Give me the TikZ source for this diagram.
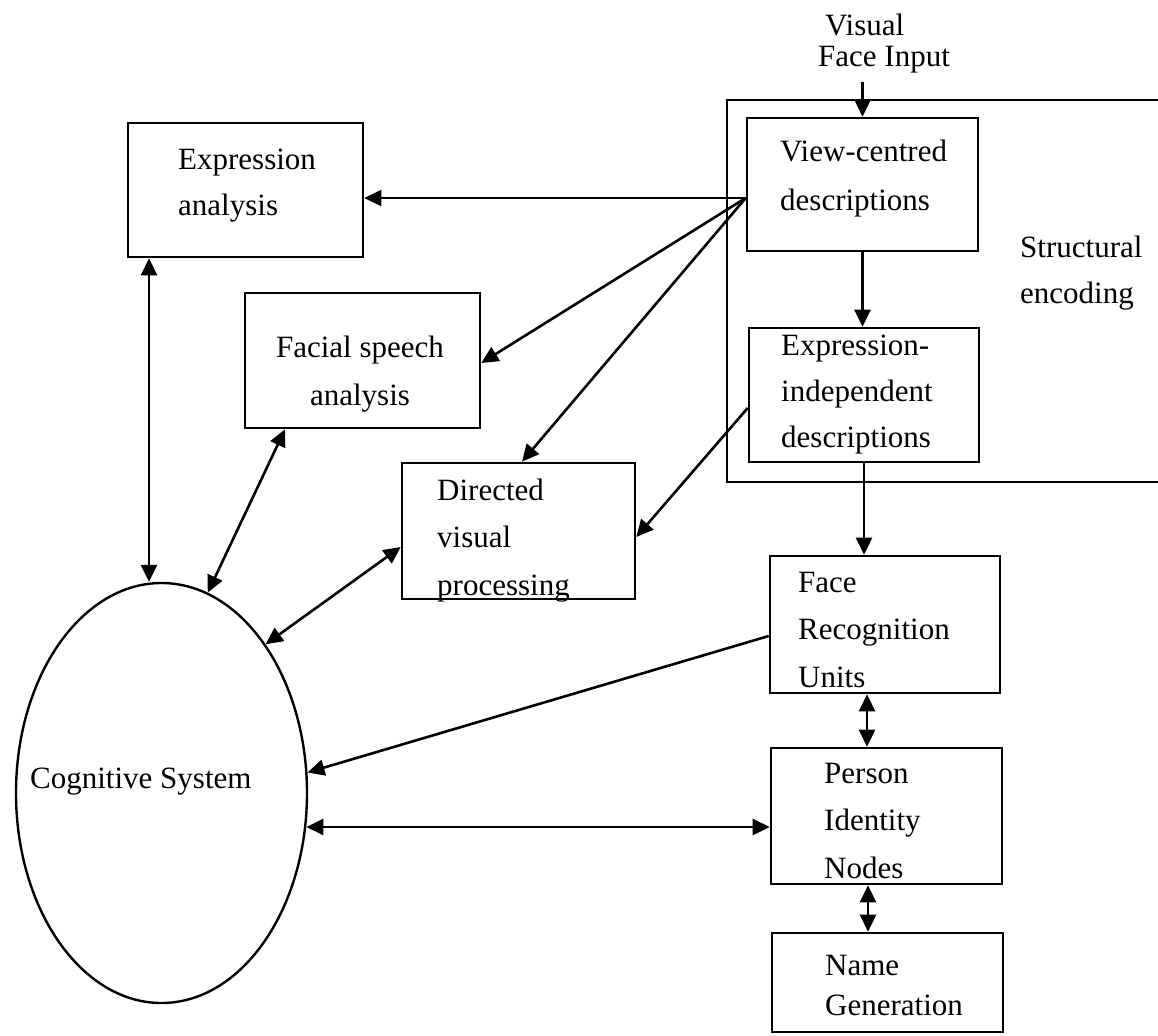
\documentclass[tikz,border=0pt]{standalone}
\usepackage{fontspec}
\setmainfont{Liberation Serif}
\usetikzlibrary{arrows.meta,shapes.geometric}
\begin{document}
\begin{tikzpicture}[x=1pt,y=-1pt,
  box/.style 2 args={draw,rectangle,line width=2.6pt,inner sep=0pt,minimum width=#1,minimum height=#2},
  txt/.style={font=\fontsize{31pt}{#1}\selectfont,align=left,inner sep=0pt,anchor=base west},
  txt/.default=47pt,
  conn/.style={line width=2.6pt},
  tip/.style={-{Triangle[length=17pt,width=16pt]}},
  tips/.style={{Triangle[length=17pt,width=16pt]}-{Triangle[length=17pt,width=16pt]}}
]
\useasboundingbox (0,0) rectangle (1158,1035);

% boxes
\node[box={235pt}{134pt}] (exa) at (245.5,190) {};
\node[box={235pt}{135pt}] (fsa) at (362.5,360.5) {};
\node[box={233pt}{136pt}] (dvp) at (518.5,531) {};
\node[box={231pt}{133pt}] (vcd) at (862.5,184.5) {};
\node[box={230pt}{134pt}] (eid) at (864,395) {};
\node[box={230pt}{137pt}] (fru) at (885,624.5) {};
\node[box={231pt}{136pt}] (pin) at (886.5,816) {};
\node[box={231pt}{99pt}] (nam) at (887.5,982.5) {};
\node[draw,ellipse,line width=2.4pt,inner sep=0pt,minimum width=291pt,minimum height=420pt] (cs) at (161.5,793) {};

% structural encoding frame (open to the right)
\coordinate (seTR) at (1158,100);
\coordinate (seBR) at (1158,482);
\draw[conn] (seTR) -- (727,100) -- (727,482) -- (seBR);

% texts (anchor: baseline of last line)
\node[txt] (vfiA) at (825,36) {Visual};
\node[txt] (vfiB) at (818,67) {Face Input};
\node[txt=46pt] (exaT) at (178,215) {Expression\\analysis};
\node[txt=48pt,align=center,anchor=base] (fsaT) at (360,405) {Facial speech\\analysis};
\node[txt=47.5pt] (dvpT) at (437,595) {Directed\\visual\\processing};
\node[txt=48pt] (vcdT) at (780,210) {View-centred\\descriptions};
\node[txt=46pt] (eidT) at (781,447) {Expression-\\independent\\descriptions};
\node[txt=46pt] (seT) at (1020,303) {Structural\\encoding};
\node[txt=47.5pt] (fruT) at (798,687) {Face\\Recognition\\Units};
\node[txt=47.5pt] (pinT) at (824,878) {Person\\Identity\\Nodes};
\node[txt=40pt] (namT) at (825,1015) {Name\\Generation};
\node[txt] (csT) at (30,788) {Cognitive System};

% connectors
\coordinate (vin) at (862.5,82);
\draw[conn,tip] (vin) -- (vcd.north);
\draw[conn,tip] (vcd.south) -- (vcd.south |- eid.north);
\draw[conn,tip] (eid.south) -- (eid.south |- fru.north);

\coordinate (vo) at ([yshift=-13.5pt]vcd.west);
\draw[conn,tip] (vo) -- (vo -| exa.east);
\draw[conn,tip] (vo) -- ([yshift=-2.5pt]fsa.east);
\draw[conn,tip] (vo) -- ([xshift=3.5pt]dvp.north);
\draw[conn,tip] ([yshift=-13pt]eid.west) -- ([yshift=-6pt]dvp.east);

\coordinate (fp) at ([xshift=-18pt]fru.south);
\draw[conn,tips] (fp) -- (fp |- pin.north);
\coordinate (pn) at ([xshift=-18.5pt]pin.south);
\draw[conn,tips] (pn) -- (pn |- nam.north);

\coordinate (ea) at ([xshift=-96.5pt]exa.south);
\draw[conn,tips] (ea) -- (ea |- cs.north);
\draw[conn,tips] ([xshift=-77.5pt]fsa.south) -- (cs.77.2);
\draw[conn,tips] ([yshift=-16pt]dvp.west) -- (cs.55);
\draw[conn,tip] ([yshift=-11.5pt]fru.west) -- (cs.8.2);
\coordinate (pw) at ([yshift=-11pt]pin.west);
\draw[conn,tips] (cs.-13.3 |- pw) -- (pw);
\end{tikzpicture}
\end{document}
